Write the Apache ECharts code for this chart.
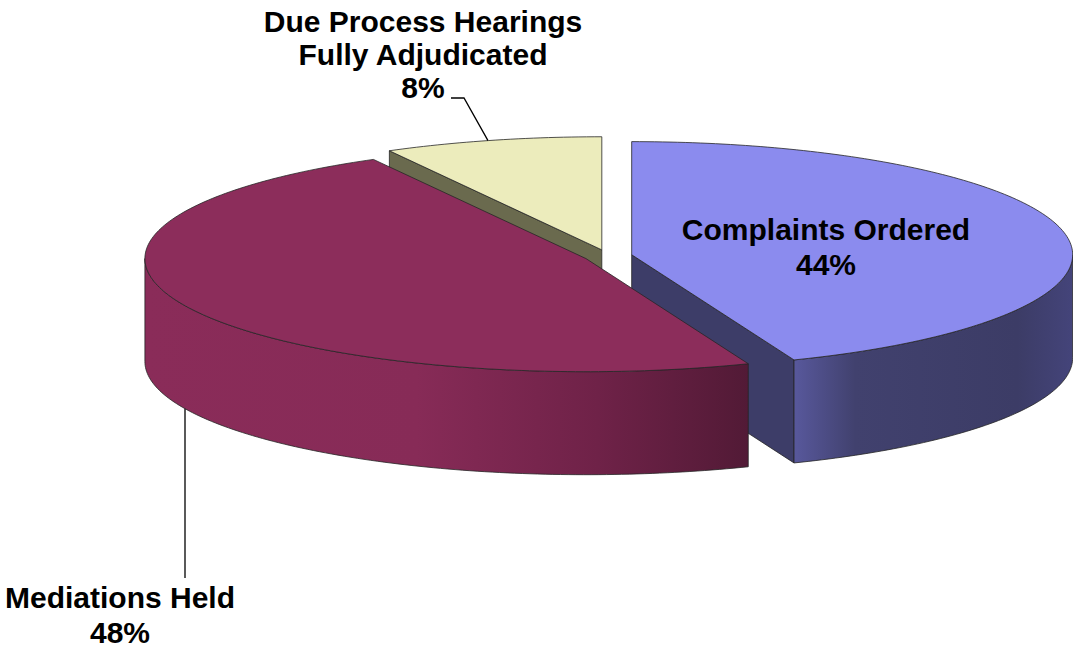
<!DOCTYPE html>
<html><head><meta charset="utf-8">
<script src="https://cdn.jsdelivr.net/npm/echarts@6/dist/echarts.min.js"></script>
<style>html,body{margin:0;padding:0;background:#fff}#chart{width:1073px;height:652px}</style>
</head><body><div id="chart"></div>
<script>
// ---- data ----
const categories = ['Complaints Ordered', 'Mediations Held', 'Due Process Hearings Fully Adjudicated'];
const values = [44, 48, 8];
const labelLines = [['Complaints Ordered'], ['Mediations Held'], ['Due Process Hearings', 'Fully Adjudicated']];

// ---- styles / layout ----
const topColors = ['#8B8BEE', '#8C2D5B', '#ECECBC'];
const cutColors = ['#3D3D68', '#5A1C3A', '#6A6A4E'];
const wallStops = [
  [[0, '#58589C'], [0.22, '#41416E'], [0.8, '#3C3C66'], [1, '#44447A']],
  [[0, '#8A2C59'], [0.45, '#872B57'], [0.75, '#6F2248'], [1, '#521A36']],
  [[0, '#6A6A4E'], [1, '#5A5A40']]
];
const FONT = 'bold 30px "Liberation Sans", Arial, sans-serif';
// label layout: center x, first-line middle y, line pitch, leader points (first point relative to slice geometry added later)
const labelLayout = [
  { x: 826, y: 229.6, pitch: 35 },
  { x: 120, y: 597.6, pitch: 35 },
  { x: 423, y: 21.6, pitch: 33 }
];

const total = values.reduce((a, b) => a + b, 0);

function geom(W, H) {
  return { cx: W * 0.5665, cy: H * 0.3925, rx: W * 0.411, ry: H * 0.1735, depth: H * 0.158, k: 0.055 };
}

function renderItem(params, api) {
  const i = params.dataIndex;
  const W = api.getWidth(), H = api.getHeight();
  const g = geom(W, H);
  let cum = 0;
  for (let j = 0; j < i; j++) cum += values[j];
  const v = api.value(0);
  const a0 = (90 - cum / total * 360) * Math.PI / 180;
  const a1 = (90 - (cum + v) / total * 360) * Math.PI / 180;
  const m = (a0 + a1) / 2;
  const ox = g.cx + g.k * g.rx * Math.cos(m);
  const oy = g.cy - g.k * g.ry * Math.sin(m);
  const P = (a, dy) => [ox + g.rx * Math.cos(a), oy - g.ry * Math.sin(a) + (dy || 0)];
  const arc = (from, to, dy) => {
    const n = Math.max(2, Math.ceil(Math.abs(to - from) / (Math.PI / 180)));
    const pts = [];
    for (let s = 0; s <= n; s++) pts.push(P(from + (to - from) * s / n, dy));
    return pts;
  };
  const stroke = '#262626', lw = 0.8;
  const children = [];
  // top face
  children.push({
    type: 'polygon', z2: 5,
    shape: { points: [[ox, oy]].concat(arc(a0, a1, 0)) },
    style: { fill: topColors[i], stroke: stroke, lineWidth: lw }
  });
  // outer curved wall (front-facing part)
  for (const off of [0, -2 * Math.PI]) {
    const lo = Math.max(a1, -Math.PI + off), hi = Math.min(a0, off);
    if (lo < hi) {
      const pts = arc(hi, lo, 0).concat(arc(lo, hi, g.depth));
      children.push({
        type: 'polygon', z2: 2,
        shape: { points: pts },
        style: {
          fill: new echarts.graphic.LinearGradient(0, 0, 1, 0, wallStops[i].map(s => ({ offset: s[0], color: s[1] }))),
          stroke: stroke, lineWidth: lw
        }
      });
    }
  }
  // cut faces
  const cut = (a) => {
    const p = P(a);
    children.push({
      type: 'polygon', z2: 1,
      shape: { points: [[ox, oy], p, [p[0], p[1] + g.depth], [ox, oy + g.depth]] },
      style: { fill: cutColors[i], stroke: stroke, lineWidth: lw }
    });
  };
  if (Math.cos(a0) < -1e-6) cut(a0);
  if (Math.cos(a1) > 1e-6) cut(a1);

  // labels
  const L = labelLayout[i];
  const lines = labelLines[i].concat([Math.round(v / total * 100) + '%']);
  lines.forEach((t, li) => {
    children.push({
      type: 'text', z2: 10, x: L.x, y: L.y + li * L.pitch,
      style: { text: t, font: FONT, fill: '#000', align: 'center', verticalAlign: 'middle' }
    });
  });
  // leader lines
  if (i === 1) {
    const lx = 185;
    const ca = (lx - ox) / g.rx;
    const sa = -Math.sqrt(1 - ca * ca);
    const yTop = oy - g.ry * sa + g.depth;
    children.push({ type: 'polyline', z2: 10, shape: { points: [[lx, yTop], [lx, 578]] }, style: { stroke: '#000', lineWidth: 1.3, fill: null } });
  }
  if (i === 2) {
    const lx = 488;
    const ca = (lx - ox) / g.rx;
    const sa = Math.sqrt(1 - ca * ca);
    const yTop = oy - g.ry * sa;
    children.push({ type: 'polyline', z2: 10, shape: { points: [[451, 98], [464, 98], [lx, yTop]] }, style: { stroke: '#000', lineWidth: 1.3, fill: null } });
  }
  return { type: 'group', children: children };
}

const chart = echarts.init(document.getElementById('chart'), null, { renderer: 'svg' });
chart.setOption({
  animation: false,
  backgroundColor: '#ffffff',
  series: [{
    type: 'custom',
    coordinateSystem: 'none',
    renderItem: renderItem,
    data: values.map((v, i) => ({ name: categories[i], value: [v] }))
  }]
});
</script>
</body></html>
